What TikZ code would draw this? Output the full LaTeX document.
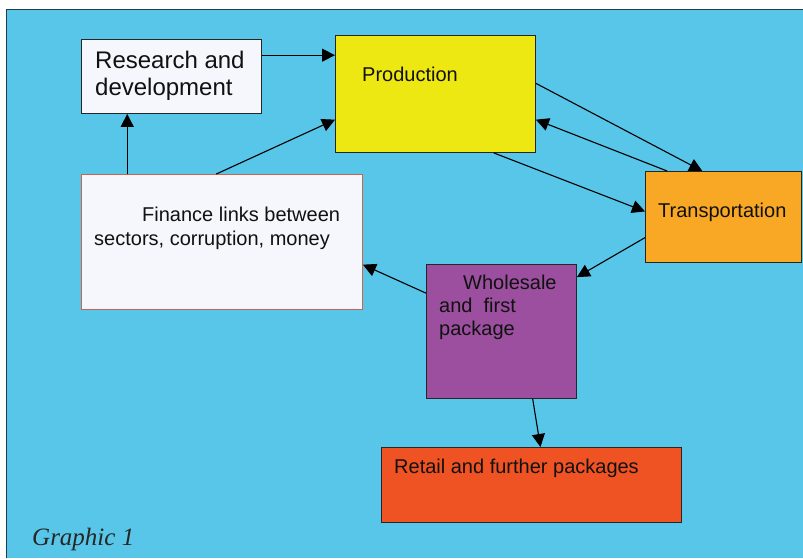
\documentclass[tikz,border=0pt]{standalone}
\usepackage{fontspec}
\setmainfont{Liberation Sans}
\newfontfamily\capfont{Liberation Serif}
\usetikzlibrary{calc,arrows.meta}

\definecolor{panelblue}{RGB}{88,198,232}
\definecolor{paneledge}{RGB}{30,60,75}
\definecolor{prodyellow}{RGB}{238,232,18}
\definecolor{transorange}{RGB}{248,168,37}
\definecolor{wholepurple}{RGB}{155,79,158}
\definecolor{retailred}{RGB}{240,83,35}
\definecolor{paleface}{RGB}{246,247,252}
\definecolor{finedge}{RGB}{200,100,80}
\definecolor{inktext}{RGB}{17,17,17}

\tikzset{
  box/.style={draw=black!85, line width=0.9pt, rectangle, inner sep=0pt,
              anchor=north west},
  label20/.style={anchor=base west, inner sep=0pt, text=inktext,
              font=\fontsize{20}{23}\selectfont},
  label24/.style={anchor=base west, inner sep=0pt, text=inktext,
              font=\fontsize{24}{28}\selectfont},
  link/.style={draw=black, line width=1.1pt,
              -{Triangle[length=13pt,width=13pt]}}
}

\begin{document}
\begin{tikzpicture}[x=1pt,y=-1pt]
\useasboundingbox (0,0) rectangle (803,558);

% background panel
\fill[panelblue] (6.5,9.5) rectangle (803,558);
\draw[paneledge, line width=1.2pt] (6.5,558) -- (6.5,9.5) -- (803,9.5);

% boxes
\node[box, fill=paleface, minimum width=180pt, minimum height=74pt] (rd) at (81,39) {};
\node[box, fill=prodyellow, minimum width=200pt, minimum height=117pt] (prod) at (335,35) {};
\node[box, fill=transorange, minimum width=156pt, minimum height=91pt] (trans) at (645,171) {};
\node[box, fill=paleface, draw=finedge, minimum width=281pt, minimum height=135pt] (fin) at (81,174) {};
\node[box, fill=wholepurple, minimum width=150pt, minimum height=134pt] (whole) at (426,264) {};
\node[box, fill=retailred, minimum width=300pt, minimum height=75pt] (retail) at (381,447) {};

% texts
\node[label24] (rdA) at (95,68) {Research and};
\node[label24] (rdB) at (95,95) {development};
\node[label20] (prodT) at (362,81) {Production};
\node[label20] (transT) at (658,217) {Transportation};
\node[label20] (finA) at (142,221) {Finance links between};
\node[label20] (finB) at (94,245) {sectors, corruption, money};
\node[label20] (wholeA) at (463,289) {Wholesale};
\node[label20] (wholeB) at (439,312) {and\ \ first};
\node[label20] (wholeC) at (439,335) {package};
\node[label20] (retailT) at (394,473) {Retail and further packages};
\node[anchor=base west, inner sep=0pt, text=black!85,
      font=\capfont\itshape\fontsize{25}{28}\selectfont] (cap) at (32,545) {Graphic 1};

% attachment points on the box borders
\coordinate (rdE)    at ($(rd.north east)!0.216!(rd.south east)$);
\coordinate (finN1)  at ($(fin.north west)!0.164!(fin.north east)$);
\coordinate (finN2)  at ($(fin.north west)!0.48!(fin.north east)$);
\coordinate (prodW)  at ($(prod.north west)!0.718!(prod.south west)$);
\coordinate (prodE1) at ($(prod.north east)!0.41!(prod.south east)$);
\coordinate (prodE2) at ($(prod.north east)!0.718!(prod.south east)$);
\coordinate (prodS)  at ($(prod.south west)!0.79!(prod.south east)$);
\coordinate (transN1) at ($(trans.north west)!0.365!(trans.north east)$);
\coordinate (transN2) at ($(trans.north west)!0.141!(trans.north east)$);
\coordinate (transW1) at ($(trans.north west)!0.44!(trans.south west)$);
\coordinate (transW2) at ($(trans.north west)!0.725!(trans.south west)$);
\coordinate (wholeE) at ($(whole.north east)!0.097!(whole.south east)$);
\coordinate (wholeW) at ($(whole.north west)!0.216!(whole.south west)$);
\coordinate (wholeS) at ($(whole.south west)!0.707!(whole.south east)$);
\coordinate (finE)   at ($(fin.north east)!0.667!(fin.south east)$);
\coordinate (retailN) at ($(retail.north west)!0.53!(retail.north east)$);

% connectors
\draw[link] (rdE) -- (rdE -| prod.west);
\draw[link] (finN1) -- (finN1 |- rd.south);
\draw[link] (finN2) -- (prodW);
\draw[link] (prodE1) -- (transN1);
\draw[link] (transN2) -- (prodE2);
\draw[link] (prodS) -- (transW1);
\draw[link] (transW2) -- (wholeE);
\draw[link] (wholeW) -- (finE);
\draw[link] (wholeS) -- (retailN);
\end{tikzpicture}
\end{document}
